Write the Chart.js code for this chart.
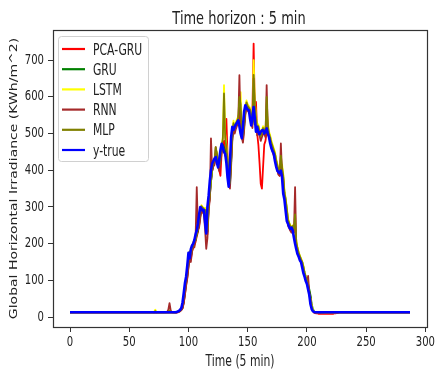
<!DOCTYPE html>
<html>
<head>
<meta charset="utf-8">
<script src="https://cdn.jsdelivr.net/npm/chart.js"></script>
<style>
  html, body { margin: 0; padding: 0; background: #ffffff; }
  canvas { display: block; }
</style>
</head>
<body>
<canvas id="c" width="443" height="378"></canvas>
<script>
// ---------------- DATA ----------------
const chartTitle = 'Time horizon : 5 min';
const xAxisTitle = 'Time (5 min)';
const yAxisTitle = 'Global Horizontal Irradiance (KWh/m^2)';
const seriesNames = ['PCA-GRU', 'GRU', 'LSTM', 'RNN', 'MLP', 'y-true'];
const xTickValues = [0, 50, 100, 150, 200, 250, 300];
const xTickLabels = ['0', '50', '100', '150', '200', '250', '300'];
const yTickValues = [0, 100, 200, 300, 400, 500, 600, 700];
const yTickLabels = ['0', '100', '200', '300', '400', '500', '600', '700'];
const timeSteps = Array.from({ length: 288 }, (_, i) => i);

const pcaGru = [
  12,12,12,12,12,12,12,12,12,12, 12,12,12,12,12,12,12,12,12,12,
  12,12,12,12,12,12,12,12,12,12, 12,12,12,12,12,12,12,12,12,12,
  12,12,12,12,12,12,12,12,12,12, 12,12,12,12,12,12,12,12,12,12,
  12,12,12,12,12,12,12,12,12,12, 12,12,12,12,12,12,12,12,12,12,
  12,12,12,12,12,12,12,12,12,12,
  12,13,14,16,19,24,38,62,88,108,
  138,170,158,180,192,196,205,220,232,250,
  276,296,290,285,287,255,225,296,328,368,
  398,415,420,430,440,415,400,385,450,470,
  480,455,540,440,360,375,430,500,520,505,
  520,530,540,560,530,495,480,530,565,580,
  565,560,560,535,560,745,560,586,500,470,
  420,363,350,410,470,480,505,515,495,480,
  465,455,440,430,415,400,390,385,390,395,
  375,330,310,285,255,248,238,235,240,230,
  212,195,180,168,160,150,146,130,115,105,
  95,85,70,55,30,18,12,11,10,10,
  9,9,9,9,9,9,9,9,9,9,
  9,9,9,10,10,11,11,12,12,12,
  12,12,12,12,12,12,12,12,12,12, 12,12,12,12,12,12,12,12,12,12,
  12,12,12,12,12,12,12,12,12,12, 12,12,12,12,12,12,12,12,12,12,
  12,12,12,12,12,12,12,12,12,12,
  12,12,12,12,12,12,12,12
];

const gru = [
  13,13,13,13,13,13,13,13,13,13, 13,13,13,13,13,13,13,13,13,13,
  13,13,13,13,13,13,13,13,13,13, 13,13,13,13,13,13,13,13,13,13,
  13,13,13,13,13,13,13,13,13,13, 13,13,13,13,13,13,13,13,13,13,
  13,13,13,13,13,13,13,13,13,13, 13,13,13,13,13,13,13,13,13,13,
  13,13,13,13,13,13,13,13,13,13,
  13,14,15,17,20,26,42,66,93,112,
  142,172,162,184,194,200,210,224,236,254,
  278,298,294,290,290,262,232,298,330,368,
  398,416,424,432,436,420,410,430,455,470,
  462,452,445,420,382,358,420,488,515,510,
  518,525,530,535,520,500,488,520,558,575,
  570,565,562,540,525,545,570,540,508,516,
  504,498,505,508,508,500,505,512,500,490,
  474,462,452,445,426,410,400,395,392,398,
  380,338,320,292,264,254,246,240,243,236,
  218,200,186,173,165,156,150,136,121,110,
  99,90,76,60,36,22,16,14,13,13,
  13,13,13,13,13,13,13,13,13,13, 13,13,13,13,13,13,13,13,13,13,
  13,13,13,13,13,13,13,13,13,13, 13,13,13,13,13,13,13,13,13,13,
  13,13,13,13,13,13,13,13,13,13, 13,13,13,13,13,13,13,13,13,13,
  13,13,13,13,13,13,13,13,13,13,
  13,13,13,13,13,13,13,13
];

const lstm = [
  13,13,13,13,13,13,13,13,13,13, 13,13,13,13,13,13,13,13,13,13,
  13,13,13,13,13,13,13,13,13,13, 13,13,13,13,13,13,13,13,13,13,
  13,13,13,13,13,13,13,13,13,13, 13,13,13,13,13,13,13,13,13,13,
  13,13,13,13,13,13,13,13,13,13,
  13,14,20,14,13,13,13,13,13,13,
  13,13,13,14,16,14,13,13,14,14,
  14,15,16,19,24,32,50,75,100,125,
  152,180,168,190,205,206,215,232,242,262,
  288,305,300,296,298,270,240,305,340,380,
  408,425,430,445,450,428,415,440,470,490,
  632,500,470,435,395,370,435,505,535,520,
  530,540,545,560,613,525,500,535,575,590,
  580,575,570,550,545,700,585,550,520,525,
  510,495,510,520,515,505,560,530,505,495,
  480,470,460,450,432,418,405,400,410,415,
  390,345,325,298,270,258,250,246,250,242,
  225,210,190,178,168,160,152,140,120,112,
  100,75,62,50,32,20,15,14,13,13,
  13,13,13,13,13,13,13,13,13,13, 13,13,13,13,13,13,13,13,13,13,
  13,13,13,13,13,13,13,13,13,13, 13,13,13,13,13,13,13,13,13,13,
  13,13,13,13,13,13,13,13,13,13, 13,13,13,13,13,13,13,13,13,13,
  13,13,13,13,13,13,13,13,13,13,
  13,13,13,13,13,13,13,13
];

const rnn = [
  13,13,13,13,13,13,13,13,13,13, 13,13,13,13,13,13,13,13,13,13,
  13,13,13,13,13,13,13,13,13,13, 13,13,13,13,13,13,13,13,13,13,
  13,13,13,13,13,13,13,13,13,13, 13,13,13,13,13,13,13,13,13,13,
  13,13,13,13,13,13,13,13,13,13, 13,13,13,13,13,13,13,13,13,13,
  13,13,14,20,38,18,13,13,13,13,
  13,14,15,17,20,24,38,60,85,105,
  135,168,150,178,188,190,215,354,238,245,
  270,292,285,280,240,186,215,290,320,487,
  400,410,415,463,440,410,398,420,448,465,
  452,440,435,410,375,350,410,480,510,500,
  512,522,528,659,515,490,475,510,550,570,
  562,558,555,530,515,650,560,530,495,505,
  495,480,490,500,498,490,632,505,490,480,
  465,450,442,435,415,400,388,385,473,390,
  370,325,310,280,250,242,235,230,238,230,
  354,195,178,165,158,148,145,128,112,102,
  92,112,65,48,25,16,13,13,12,12,
  11,11,12,12,12,13,13,13,13,13,
  13,13,13,13,13,13,13,13,13,13, 13,13,13,13,13,13,13,13,13,13,
  13,13,13,13,13,13,13,13,13,13, 13,13,13,13,13,13,13,13,13,13,
  13,13,13,13,13,13,13,13,13,13, 13,13,13,13,13,13,13,13,13,13,
  13,13,13,13,13,13,13,13
];

const mlp = [
  13,13,13,13,13,13,13,13,13,13, 13,13,13,13,13,13,13,13,13,13,
  13,13,13,13,13,13,13,13,13,13, 13,13,13,13,13,13,13,13,13,13,
  13,13,13,13,13,13,13,13,13,13, 13,13,13,13,13,13,13,13,13,13,
  13,13,13,13,13,13,13,13,13,13,
  13,13,16,13,13,13,13,13,13,13,
  13,13,13,13,18,15,13,13,13,13,
  14,15,17,20,25,35,55,80,102,128,
  155,178,172,188,200,205,212,230,245,265,
  290,302,298,294,292,262,238,302,335,375,
  405,420,428,463,445,425,412,438,465,485,
  609,490,462,430,390,365,428,500,528,515,
  525,535,540,600,580,515,495,528,568,585,
  575,570,565,545,535,660,578,545,512,520,
  505,492,505,515,510,500,600,520,500,488,
  475,465,455,445,428,414,402,396,440,408,
  385,340,322,295,266,256,248,243,248,240,
  280,205,188,176,166,158,150,138,122,110,
  100,80,62,45,28,18,14,13,13,13,
  13,13,13,13,13,13,13,13,13,13, 13,13,13,13,13,13,13,13,13,13,
  13,13,13,13,13,13,13,13,13,13, 13,13,13,13,13,13,13,13,13,13,
  13,13,13,13,13,13,13,13,13,13, 13,13,13,13,13,13,13,13,13,13,
  13,13,13,13,13,13,13,13,13,13,
  13,13,13,13,13,13,13,13
];

const yTrue = [
  13,13,13,13,13,13,13,13,13,13, 13,13,13,13,13,13,13,13,13,13,
  13,13,13,13,13,13,13,13,13,13, 13,13,13,13,13,13,13,13,13,13,
  13,13,13,13,13,13,13,13,13,13, 13,13,13,13,13,13,13,13,13,13,
  13,13,13,13,13,13,13,13,13,13, 13,13,13,13,13,13,13,13,13,13,
  13,13,13,13,13,13,13,13,13,13,
  14,15,17,20,25,40,65,92,110,140,
  175,160,185,195,200,210,225,236,255,280,
  300,295,290,292,260,228,300,330,370,400,
  418,425,432,436,420,408,430,455,472,462,
  450,445,420,380,355,420,490,518,510,518,
  525,530,536,520,500,487,520,560,577,570,
  565,563,540,522,545,572,540,505,518,504,
  498,505,509,509,500,505,514,500,490,473,
  460,452,445,425,410,399,395,392,399,380,
  336,320,290,262,254,245,240,244,236,217,
  200,185,172,165,155,150,135,120,110,98,
  90,75,60,35,22,16,14,13,13,13,
  13,13,13,13,13,13,13,13,13,13, 13,13,13,13,13,13,13,13,13,13,
  13,13,13,13,13,13,13,13,13,13, 13,13,13,13,13,13,13,13,13,13,
  13,13,13,13,13,13,13,13,13,13, 13,13,13,13,13,13,13,13,13,13,
  13,13,13,13,13,13,13,13,13,13,
  13,13,13,13,13,13,13,13
];

const seriesValues = [pcaGru, gru, lstm, rnn, mlp, yTrue];
seriesValues.forEach((a, i) => {
  if (a.length !== timeSteps.length) throw new Error(seriesNames[i] + ' length ' + a.length);
});

// ---------------- STYLE ----------------
const seriesColors = ['#ff0000', '#008000', '#ffff00', '#a52a2a', '#808000', '#0000ff'];
const seriesWidths = [1.8, 1.8, 1.8, 1.8, 1.8, 2.6];
const SX = 0.72;            // horizontal squeeze of the reference's text
const FONT = '"DejaVu Sans", "Liberation Sans", sans-serif';
const TEXT = '#222222';

function squeezedText(ctx, s, x, y, size, align, baseline) {
  ctx.save();
  ctx.translate(x, y);
  ctx.scale(SX, 1);
  ctx.font = size + 'px ' + FONT;
  ctx.textAlign = align;
  ctx.textBaseline = baseline;
  ctx.fillStyle = TEXT;
  ctx.fillText(s, 0, 0);
  ctx.restore();
}

const decor = {
  id: 'decor',
  afterDraw(chart) {
    const ctx = chart.ctx;
    const ca = chart.chartArea;
    const xs = chart.scales.x, ys = chart.scales.y;

    // frame
    ctx.save();
    ctx.strokeStyle = '#333333';
    ctx.lineWidth = 1.2;
    ctx.strokeRect(Math.round(ca.left) + 0.5, Math.round(ca.top) + 0.5,
                   Math.round(ca.right - ca.left), Math.round(ca.bottom - ca.top));
    ctx.restore();

    // tick labels
    xTickValues.forEach((v, i) => {
      squeezedText(ctx, xTickLabels[i], xs.getPixelForValue(v), 342, 14, 'center', 'middle');
    });
    yTickValues.forEach((v, i) => {
      squeezedText(ctx, yTickLabels[i], 44, ys.getPixelForValue(v), 14, 'right', 'middle');
    });

    // titles
    squeezedText(ctx, chartTitle, (ca.left + ca.right) / 2 - 1, 23.5, 18, 'center', 'alphabetic');
    squeezedText(ctx, xAxisTitle, (ca.left + ca.right) / 2, 366, 15, 'center', 'alphabetic');
    ctx.save();
    ctx.translate(14, (ca.top + ca.bottom) / 2);
    ctx.scale(SX, 1);
    ctx.rotate(-Math.PI / 2);
    ctx.font = '14px ' + FONT;
    ctx.textAlign = 'center';
    ctx.textBaseline = 'middle';
    ctx.fillStyle = TEXT;
    ctx.fillText(yAxisTitle, 0, 0);
    ctx.restore();

    // legend
    const bx = 58.5, by = 36.5, bw = 90, bh = 125, r = 3;
    ctx.save();
    ctx.beginPath();
    ctx.moveTo(bx + r, by);
    ctx.lineTo(bx + bw - r, by);
    ctx.quadraticCurveTo(bx + bw, by, bx + bw, by + r);
    ctx.lineTo(bx + bw, by + bh - r);
    ctx.quadraticCurveTo(bx + bw, by + bh, bx + bw - r, by + bh);
    ctx.lineTo(bx + r, by + bh);
    ctx.quadraticCurveTo(bx, by + bh, bx, by + bh - r);
    ctx.lineTo(bx, by + r);
    ctx.quadraticCurveTo(bx, by, bx + r, by);
    ctx.closePath();
    ctx.fillStyle = 'rgba(255,255,255,0.85)';
    ctx.fill();
    ctx.strokeStyle = '#d0d0d0';
    ctx.lineWidth = 1;
    ctx.stroke();
    chart.data.datasets.forEach((ds, i) => {
      const yy = 49 + 20.2 * i;
      ctx.beginPath();
      ctx.moveTo(62, yy);
      ctx.lineTo(85, yy);
      ctx.strokeStyle = ds.borderColor;
      ctx.lineWidth = 2.2;
      ctx.stroke();
      squeezedText(ctx, ds.label, 93, yy + 5.5, 15, 'left', 'alphabetic');
    });
    ctx.restore();
  }
};

const datasets = seriesNames.map((name, i) => ({
  label: name,
  data: seriesValues[i],
  borderColor: seriesColors[i],
  backgroundColor: seriesColors[i],
  borderWidth: seriesWidths[i],
  borderJoinStyle: 'round',
  pointRadius: 0,
  fill: false,
  tension: 0,
  order: seriesNames.length - 1 - i
}));

new Chart(document.getElementById('c'), {
  type: 'line',
  data: { labels: timeSteps, datasets },
  options: {
    responsive: false,
    animation: false,
    devicePixelRatio: 1,
    layout: { padding: { top: 30, right: 16, left: 0, bottom: 0 } },
    plugins: { legend: { display: false }, tooltip: { enabled: false }, title: { display: false } },
    scales: {
      x: {
        type: 'linear',
        min: -14.35,
        max: 301.35,
        afterBuildTicks: s => { s.ticks = xTickValues.map(v => ({ value: v })); },
        afterFit: s => { s.height = 51; },
        ticks: { display: false },
        grid: { drawOnChartArea: false, drawTicks: true, tickLength: 5, color: '#333333', lineWidth: 1 },
        border: { display: false }
      },
      y: {
        type: 'linear',
        min: -27,
        max: 782,
        afterBuildTicks: s => { s.ticks = yTickValues.map(v => ({ value: v })); },
        afterFit: s => { s.width = 53; },
        ticks: { display: false },
        grid: { drawOnChartArea: false, drawTicks: true, tickLength: 5, color: '#333333', lineWidth: 1 },
        border: { display: false }
      }
    }
  },
  plugins: [decor]
});
</script>
</body>
</html>
